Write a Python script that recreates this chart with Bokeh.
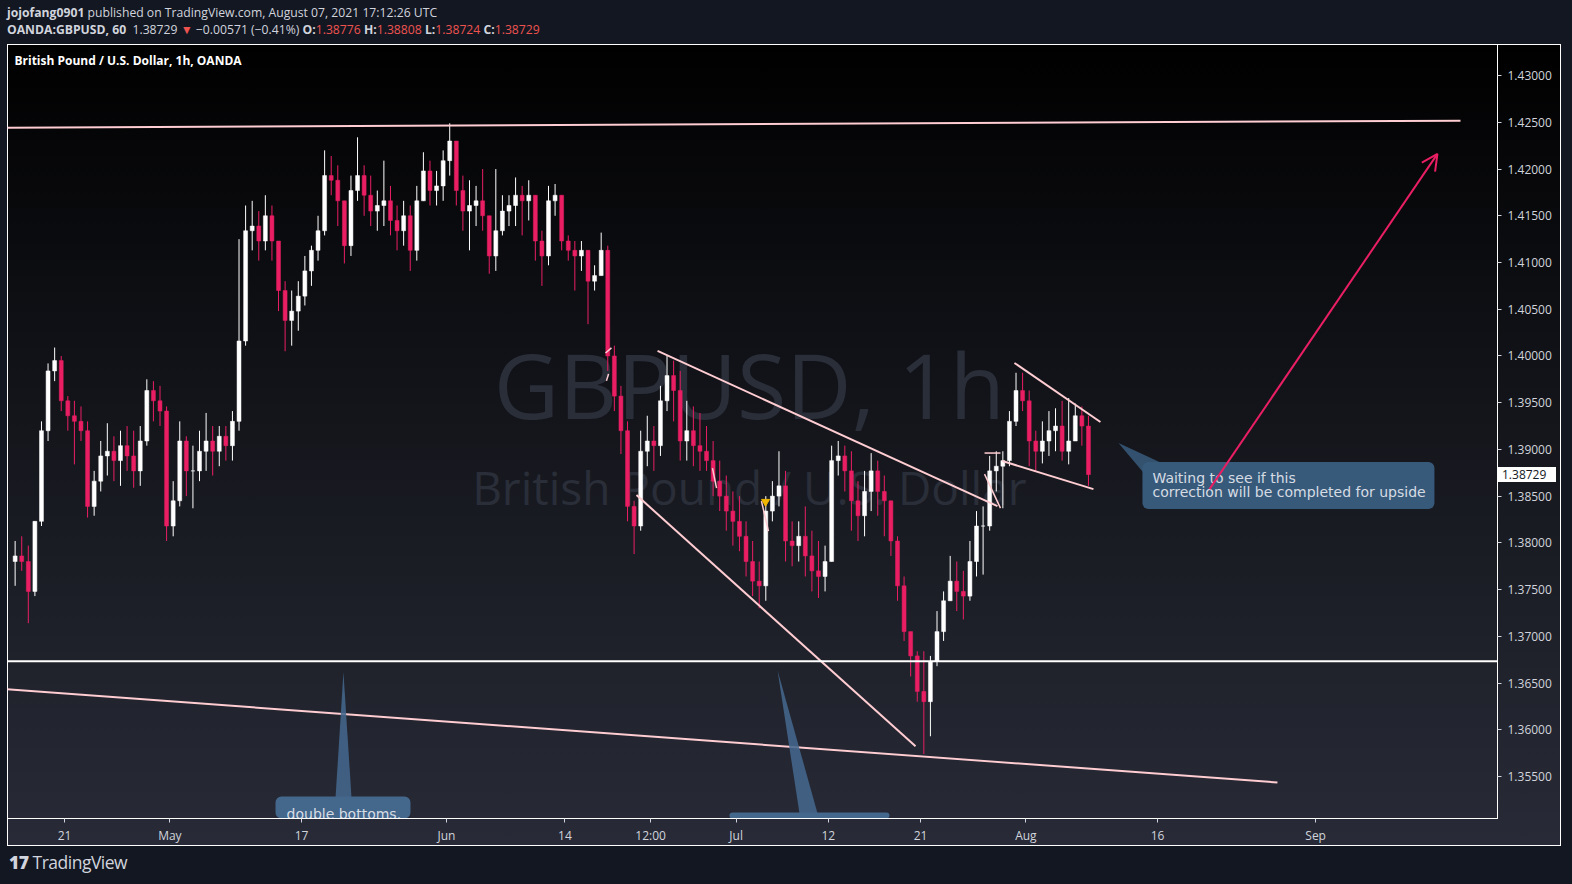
import numpy as np
from bokeh.plotting import figure
from bokeh.models import (ColumnDataSource, FixedTicker, PrintfTickFormatter, Span, Label,
                          BoxAnnotation, Arrow, OpenHead, Div, Range1d)
from bokeh.layouts import column
from bokeh.core.properties import value
from bokeh.embed import file_html
from bokeh.resources import INLINE

# ---------------- data: GBPUSD, half-day bars (index k -> trading day k/2, day 0 = Apr 15 2021)
first_open = 1.3780
highs = [1.3802,1.3807,1.3797,1.3823,1.3930,1.3992,1.4009,1.4000,1.3957,1.3952,
         1.3946,1.3930,1.3877,1.3909,1.3928,1.3914,1.3920,1.3925,1.3920,1.3925,
         1.3975,1.3973,1.3968,1.3946,1.3866,1.3930,1.3914,1.3904,1.3920,1.3939,
         1.3925,1.3925,1.3925,1.3941,1.4125,1.4161,1.4166,1.4155,1.4172,1.4161,
         1.4123,1.4080,1.4070,1.4080,1.4107,1.4118,1.4150,1.4220,1.4214,1.4204,
         1.4161,1.4193,1.4234,1.4204,1.4193,1.4177,1.4209,1.4182,1.4161,1.4166,
         1.4161,1.4182,1.4218,1.4209,1.4198,1.4220,1.4249,1.4230,1.4193,1.4188,
         1.4182,1.4200,1.4139,1.4200,1.4172,1.4172,1.4191,1.4182,1.4188,1.4172,
         1.4134,1.4182,1.4184,1.4172,1.4129,1.4123,1.4123,1.4113,1.4097,1.4132,
         1.4118,1.4011,1.3968,1.3930,1.3845,1.3920,1.3936,1.3925,1.3968,1.4000,
         1.3995,1.3984,1.3952,1.3946,1.3939,1.3925,1.3909,1.3888,1.3872,1.3855,
         1.3850,1.3823,1.3802,1.3780,1.3850,1.3866,1.3898,1.3877,1.3823,1.3823,
         1.3839,1.3813,1.3802,1.3797,1.3904,1.3909,1.3904,1.3898,1.3866,1.3877,
         1.3896,1.3888,1.3872,1.3845,1.3807,1.3764,1.3705,1.3684,1.3684,1.3679,
         1.3727,1.3748,1.3786,1.3780,1.3770,1.3802,1.3834,1.3839,1.3893,1.3898,
         1.3898,1.3941,1.3982,1.3982,1.3963,1.3920,1.3930,1.3941,1.3944,1.3952,
         1.3955,1.3949,1.3946,1.3936]
lows = [1.3754,1.3770,1.3714,1.3743,1.3818,1.3909,1.3973,1.3941,1.3920,1.3884,
        1.3909,1.3827,1.3829,1.3855,1.3872,1.3866,1.3861,1.3877,1.3859,1.3861,
        1.3904,1.3930,1.3925,1.3802,1.3807,1.3839,1.3850,1.3837,1.3866,1.3877,
        1.3872,1.3882,1.3888,1.3888,1.3920,1.4011,1.4113,1.4102,1.4113,1.4102,
        1.4048,1.4005,1.4011,1.4027,1.4054,1.4075,1.4102,1.4129,1.4172,1.4139,
        1.4099,1.4107,1.4166,1.4150,1.4139,1.4134,1.4139,1.4129,1.4113,1.4118,
        1.4091,1.4102,1.4166,1.4161,1.4161,1.4166,1.4193,1.4161,1.4134,1.4113,
        1.4139,1.4134,1.4088,1.4091,1.4129,1.4139,1.4139,1.4129,1.4145,1.4102,
        1.4075,1.4097,1.4150,1.4113,1.4102,1.4070,1.4091,1.4034,1.4070,1.4086,
        1.3984,1.3941,1.3895,1.3823,1.3788,1.3813,1.3882,1.3877,1.3893,1.3941,
        1.3930,1.3888,1.3888,1.3882,1.3877,1.3877,1.3850,1.3834,1.3813,1.3797,
        1.3791,1.3764,1.3743,1.3730,1.3738,1.3823,1.3839,1.3780,1.3775,1.3780,
        1.3764,1.3748,1.3741,1.3748,1.3780,1.3872,1.3855,1.3813,1.3802,1.3807,
        1.3834,1.3829,1.3807,1.3786,1.3738,1.3695,1.3657,1.3630,1.3574,1.3593,
        1.3668,1.3695,1.3738,1.3727,1.3718,1.3738,1.3764,1.3766,1.3813,1.3855,
        1.3837,1.3882,1.3925,1.3941,1.3882,1.3877,1.3885,1.3893,1.3898,1.3888,
        1.3884,1.3909,1.3904,1.3861]
closes = [1.3786,1.3780,1.3748,1.3823,1.3920,1.3984,1.3995,1.3952,1.3936,1.3930,
          1.3920,1.3839,1.3866,1.3893,1.3898,1.3888,1.3904,1.3893,1.3877,1.3909,
          1.3963,1.3952,1.3941,1.3818,1.3845,1.3909,1.3877,1.3877,1.3898,1.3909,
          1.3898,1.3914,1.3904,1.3930,1.4016,1.4134,1.4139,1.4123,1.4150,1.4123,
          1.4070,1.4038,1.4048,1.4064,1.4091,1.4113,1.4134,1.4193,1.4188,1.4166,
          1.4118,1.4177,1.4193,1.4172,1.4155,1.4161,1.4166,1.4145,1.4134,1.4150,
          1.4113,1.4166,1.4198,1.4177,1.4182,1.4209,1.4230,1.4177,1.4155,1.4161,
          1.4166,1.4150,1.4107,1.4134,1.4155,1.4161,1.4172,1.4166,1.4172,1.4123,
          1.4107,1.4166,1.4172,1.4123,1.4113,1.4107,1.4113,1.4080,1.4086,1.4113,
          1.4000,1.3957,1.3920,1.3839,1.3818,1.3898,1.3909,1.3904,1.3952,1.3979,
          1.3963,1.3909,1.3920,1.3904,1.3898,1.3888,1.3866,1.3850,1.3834,1.3823,
          1.3807,1.3780,1.3759,1.3754,1.3834,1.3850,1.3861,1.3802,1.3797,1.3807,
          1.3786,1.3770,1.3764,1.3780,1.3888,1.3893,1.3877,1.3845,1.3829,1.3855,
          1.3877,1.3855,1.3845,1.3802,1.3754,1.3705,1.3679,1.3641,1.3630,1.3673,
          1.3705,1.3738,1.3759,1.3748,1.3743,1.3780,1.3818,1.3818,1.3877,1.3882,
          1.3888,1.3930,1.3963,1.3952,1.3909,1.3898,1.3909,1.3920,1.3925,1.3898,
          1.3909,1.3936,1.3925,1.3873]

last_price = 1.38729

# x axis: trading-day index (day 0 = Apr 15), tick labels as in the reference
tick_days = [4, 12, 22, 33, 42, 48.5, 55, 62, 69, 77, 87, 99]
tick_labels = ["21", "May", "17", "Jun", "14", "12:00", "Jul", "12", "21", "Aug", "16", "Sep"]
price_ticks = [1.355, 1.360, 1.365, 1.370, 1.375, 1.380, 1.385, 1.390,
               1.395, 1.400, 1.405, 1.410, 1.415, 1.420, 1.425, 1.430]

# drawing tools (day index, price)
trend_x0 = [-0.40, -0.40, 49.03, 47.43, 76.13, 75.22]
trend_y0 = [1.42443, 1.36433, 1.40054, 1.38511, 1.39925, 1.38875]
trend_x1 = [110.0, 96.10, 74.84, 68.62, 82.66, 82.13]
trend_y1 = [1.42518, 1.35436, 1.38393, 1.35822, 1.39293, 1.38575]
small_x0 = [73.86, 73.86, 56.92, 53.20, 45.08, 45.15]
small_y0 = [1.38961, 1.38736, 1.38447, 1.38800, 1.40032, 1.39733]
small_x1 = [75.07, 75.07, 57.45, 53.51, 45.53, 45.31]
small_y1 = [1.38961, 1.38372, 1.38125, 1.38586, 1.40086, 1.39808]
support_level = 1.36733
arrow_from = (90.94, 1.38575)
arrow_to = (108.25, 1.42162)
note_text = ["Waiting to see if this", "correction will be completed for upside"]

# ---------------- figure
N = len(closes)
opens = [first_open] + closes[:-1]
xc = [k * 0.5 + 0.25 for k in range(N)]
o = np.array(opens); c = np.array(closes)
h = np.maximum(np.array(highs), np.maximum(o, c))
l = np.minimum(np.array(lows), np.minimum(o, c))
up = c >= o
PINK = "#e91e63"
cols = ["#ffffff" if u else PINK for u in up]
src = ColumnDataSource(dict(x=xc, top=np.maximum(o, c), bottom=np.minimum(o, c), h=h, l=l, col=cols))

p = figure(width=1554, height=802, output_backend="svg", toolbar_location=None,
           x_range=Range1d(-0.33, 112.81), y_range=Range1d(1.3505, 1.43333),
           y_axis_location="right", min_border_left=0, min_border_top=0,
           min_border_right=64, min_border_bottom=28,
           border_fill_alpha=0, background_fill_alpha=0,
           outline_line_color="#ffffff", outline_line_width=1,
           styles={"background": "linear-gradient(180deg, #000000 0%, #0d0e12 30%, #1b1d25 65%, #282b37 100%)",
                   "outline": "1px solid #ffffff", "outline-offset": "-1px"})
p.grid.visible = False

# axes
xa = p.xaxis[0]
xa.ticker = FixedTicker(ticks=tick_days)
xa.major_label_overrides = {t: s for t, s in zip(tick_days, tick_labels)}
ya = p.yaxis[0]
ya.ticker = FixedTicker(ticks=price_ticks)
ya.formatter = PrintfTickFormatter(format="%.5f")
for ax in (xa, ya):
    ax.axis_line_color = "#ffffff"
    ax.major_tick_line_color = "#d1d4dc"
    ax.major_tick_out = 4
    ax.major_tick_in = 0
    ax.minor_tick_line_color = None
    ax.major_label_text_color = "#d1d4dc"
    ax.major_label_text_font = "Open Sans"
    ax.major_label_text_font_size = "12px"
    ax.major_label_standoff = 6
xa.major_label_standoff = 4

# watermark
p.text(x=[56.0], y=[1.3970], text=["GBPUSD, 1h"], text_align="center", text_baseline="middle",
       text_font=value("Open Sans"), text_font_size="90px", text_color="#2a2e39")
p.text(x=[56.0], y=[1.3860], text=["British Pound / U.S. Dollar"], text_align="center",
       text_baseline="middle", text_font=value("Open Sans"), text_font_size="46px", text_color="#2a2e39")

# callout boxes (behind glyphs)
p.add_layout(BoxAnnotation(left=85.85, right=108.02, top=1.38865, bottom=1.38361,
                           fill_color="#385a7a", fill_alpha=1, line_color=None,
                           border_radius=6, level="underlay"))
p.add_layout(BoxAnnotation(left=20.02, right=30.27, top=1.35286,
                           fill_color="#44678c", fill_alpha=1, line_color=None,
                           border_radius=6, level="underlay"))
p.add_layout(BoxAnnotation(left=54.49, right=66.64, top=1.35115,
                           fill_color="#44678c", fill_alpha=1, line_color=None,
                           border_radius=6, level="underlay"))

# candles
p.segment(x0="x", y0="h", x1="x", y1="l", color="col", line_width=1, source=src)
p.vbar(x="x", width=0.3, top="top", bottom="bottom", fill_color="col", line_color="col",
       line_width=0.5, source=src)

# trend lines
p.segment(x0=trend_x0, y0=trend_y0, x1=trend_x1, y1=trend_y1, line_color="#ffcdd2", line_width=2)
p.segment(x0=small_x0, y0=small_y0, x1=small_x1, y1=small_y1, line_color="#ffcdd2", line_width=1.5)
p.add_layout(Span(location=support_level, dimension="width", line_color="#ffffff", line_width=2))
p.scatter(x=[57.23], y=[1.38440], marker="inverted_triangle", size=8, color="#f2b600")

# callout pointers
p.patches(xs=[[84.03, 86.08, 87.14], [25.18, 24.58, 25.79], [58.14, 59.81, 61.18]],
          ys=[[1.39068, 1.38725, 1.38865], [1.36615, 1.35275, 1.35275], [1.36636, 1.35104, 1.35104]],
          fill_color=["#385a7a", "#44678c", "#44678c"], fill_alpha=0.88, line_color=None)

# callout texts
p.text(x=[86.61, 86.61], y=[1.38693, 1.38543], text=note_text, text_baseline="middle",
       text_font=value("DejaVu Sans"), text_font_size="14px", text_color="#d6dce4")
p.text(x=[20.86], y=[1.35095], text=["double bottoms."], text_baseline="middle",
       text_font=value("DejaVu Sans"), text_font_size="14px", text_color="#d6dce4")

# projection arrow
p.add_layout(Arrow(end=OpenHead(size=16, line_color=PINK, line_width=2),
                   x_start=arrow_from[0], y_start=arrow_from[1],
                   x_end=arrow_to[0], y_end=arrow_to[1], line_color=PINK, line_width=2))

# chart title
p.add_layout(Label(x=0.2, y=1.43161, text="British Pound / U.S. Dollar, 1h, OANDA",
                   text_baseline="middle", text_color="#ffffff", text_font="Open Sans",
                   text_font_style="bold", text_font_size="12px"))

RED = "#ef5350"
header = Div(width=1556, height=44, margin=(0, 0, 0, 0), text=(
    "<div style=\"padding-top:4px;font-family:'Open Sans';font-size:12.2px;"
    "color:#d1d4dc;line-height:17px;white-space:nowrap;\">"
    "<b>jojofang0901</b> published on TradingView.com, August 07, 2021 17:12:26 UTC<br>"
    "<b>OANDA:GBPUSD, 60</b>&nbsp; 1.38729 <span style='color:%s'>&#9660;</span> "
    "&minus;0.00571 (&minus;0.41%%) "
    "<b>O:</b><span style='color:%s'>1.38776</span> <b>H:</b><span style='color:%s'>1.38808</span> "
    "<b>L:</b><span style='color:%s'>1.38724</span> <b>C:</b><span style='color:%s'>1.38729</span>"
    "</div>") % (RED, RED, RED, RED, RED))
footer = Div(width=1556, height=22, margin=(0, 0, 0, 0), text=(
    "<div style=\"padding-top:7px;padding-left:2px;font-family:'Open Sans';font-size:17.5px;"
    "color:#d1d4dc;line-height:18px;letter-spacing:-0.5px;\">"
    "<b style='font-weight:900'>17</b> TradingView</div>"))

layout = column(header, p, footer, spacing=0)
html = file_html(layout, INLINE, title="GBPUSD")
css = ("<style>html,body{background:#131722 !important;} "
       "body{margin:0 !important;padding:0 0 0 7px !important;}</style>")
price_tag = ("<div style=\"position:absolute;left:1498px;top:467px;width:58px;height:15px;"
             "background:#ffffff;color:#131722;font-family:'Open Sans';font-size:12px;"
             "line-height:15px;padding-left:4px;box-sizing:border-box;\">%.5f</div>" % last_price)
html = html.replace("</head>", css + "</head>", 1)
html = html.replace("</body>", price_tag + "</body>", 1)
open("out.html", "w").write(html)
